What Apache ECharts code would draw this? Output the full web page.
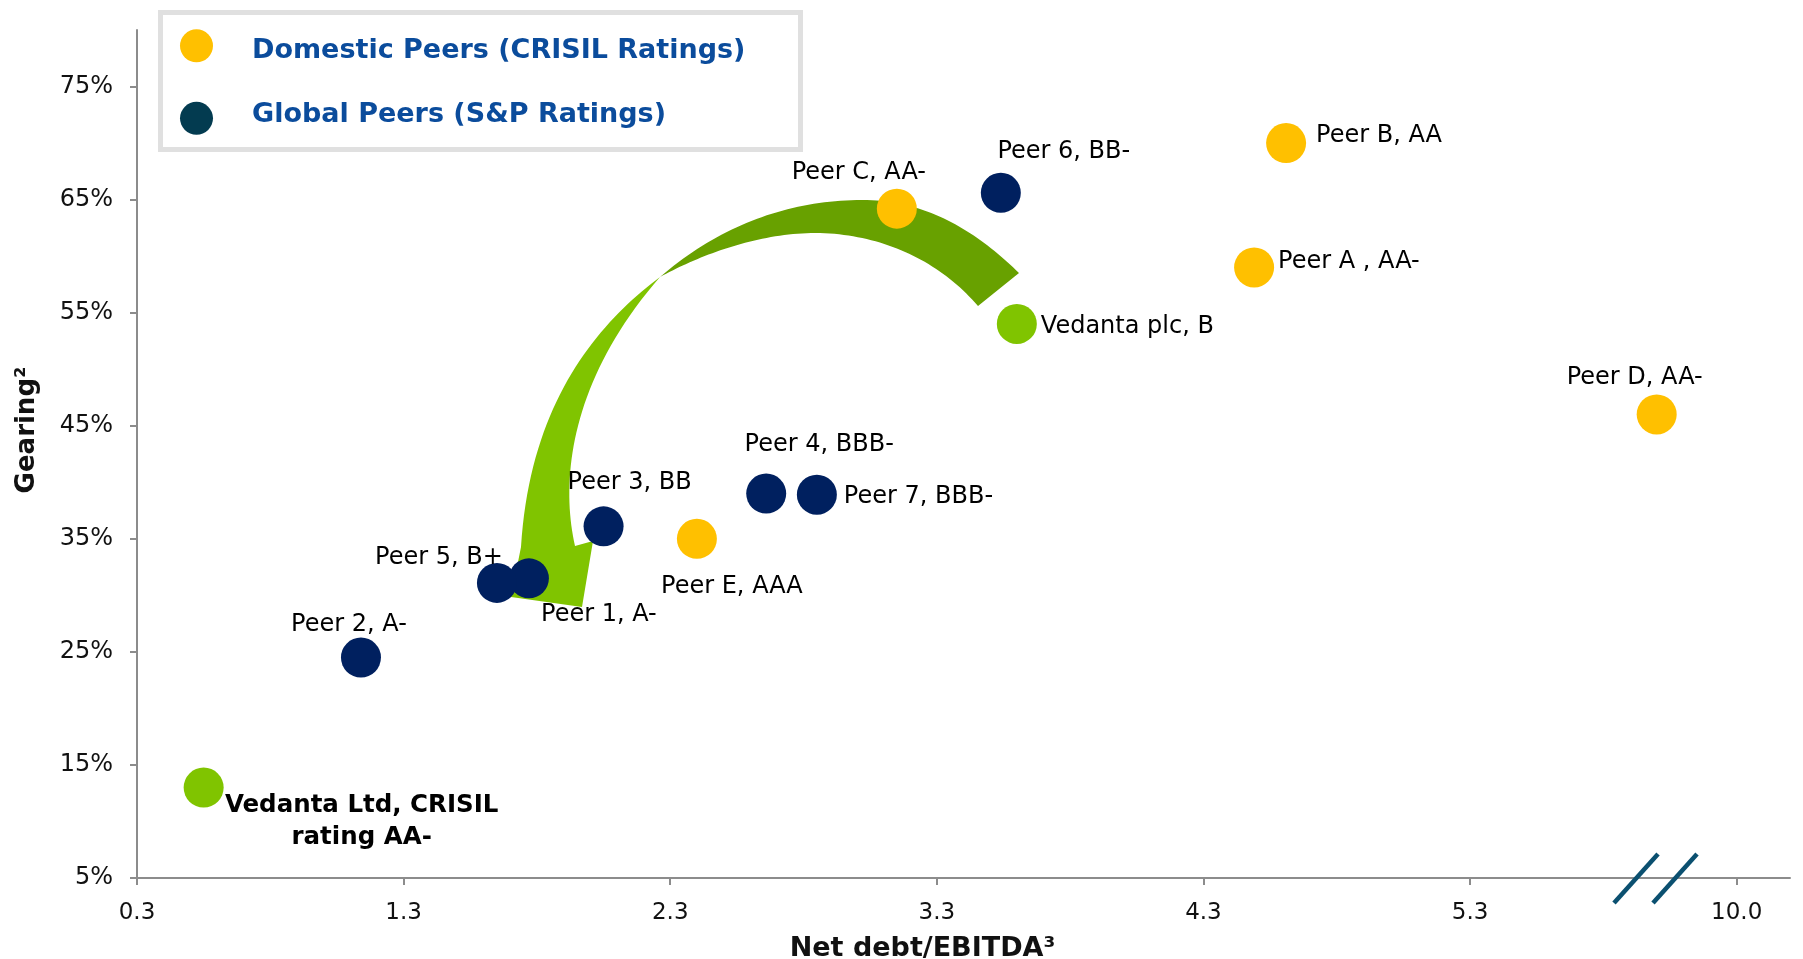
<!DOCTYPE html>
<html>
<head>
<meta charset="utf-8">
<script src="https://cdn.jsdelivr.net/npm/echarts@6/dist/echarts.min.js"></script>
<style>
html,body{margin:0;padding:0;background:#ffffff;overflow:hidden;}
#chart{width:1803px;height:959px;}
</style>
</head>
<body>
<div id="chart"></div>
<script>
// ---- data ----
const X_TICKS = [0.3, 1.3, 2.3, 3.3, 4.3, 5.3, 6.3];
const X_TICK_LABELS = ['0.3', '1.3', '2.3', '3.3', '4.3', '5.3', '10.0'];
const Y_TICKS = [5, 15, 25, 35, 45, 55, 65, 75];

const DOMESTIC_NAMES = ['Peer A , AA-', 'Peer B, AA', 'Peer C, AA-', 'Peer D, AA-', 'Peer E, AAA'];
const DOMESTIC_X = [4.49, 4.61, 3.15, 6.00, 2.40];
const DOMESTIC_Y = [59.0, 70.0, 64.2, 46.0, 35.0];

const GLOBAL_NAMES = ['Peer 1, A-', 'Peer 2, A-', 'Peer 3, BB', 'Peer 4, BBB-', 'Peer 5, B+', 'Peer 6, BB-', 'Peer 7, BBB-'];
const GLOBAL_X = [1.77, 1.14, 2.05, 2.66, 1.65, 3.54, 2.85];
const GLOBAL_Y = [31.5, 24.5, 36.1, 39.0, 31.1, 65.6, 38.9];

const VEDANTA_NAMES = ['Vedanta Ltd, CRISIL\nrating AA-', 'Vedanta plc, B'];
const VEDANTA_X = [0.55, 3.60];
const VEDANTA_Y = [13.0, 54.0];

const SERIES_NAMES = ['Domestic Peers (CRISIL Ratings)', 'Global Peers (S&P Ratings)', 'Vedanta'];

// ---- styles ----
const FONT = 'DejaVu Sans';
const C_YELLOW = '#FFC000';
const C_NAVY = '#00205F';
const C_TEAL = '#033B50';
const C_GREEN = '#80C400';
const C_DARKGREEN = '#68A100';
const C_AXIS = '#8c8c8c';
const C_LEGEND_TEXT = '#0B4C9C';

// label placement (offset of label anchor from symbol box top-left; box is 40x40)
const LABEL_PLACE = {
  'Peer A , AA-': {pos: [44, 14], align: 'left'},
  'Peer B, AA': {pos: [50, 13], align: 'left'},
  'Peer C, AA-': {pos: [-18, -16], align: 'center'},
  'Peer D, AA-': {pos: [-2, -17], align: 'center'},
  'Peer E, AAA': {pos: [55, 68], align: 'center'},
  'Peer 1, A-': {pos: [90, 56], align: 'center'},
  'Peer 2, A-': {pos: [8, -13], align: 'center'},
  'Peer 3, BB': {pos: [46, -24], align: 'center'},
  'Peer 4, BBB-': {pos: [73, -29], align: 'center'},
  'Peer 5, B+': {pos: [-38, -5], align: 'center'},
  'Peer 6, BB-': {pos: [83, -21], align: 'center'},
  'Peer 7, BBB-': {pos: [47, 22], align: 'left'},
  'Vedanta Ltd, CRISIL\nrating AA-': {pos: [178, 54], align: 'center', bold: true},
  'Vedanta plc, B': {pos: [44, 23], align: 'left'}
};

function buildData(names, xs, ys) {
  return names.map(function (n, i) {
    const p = LABEL_PLACE[n];
    return {
      name: n,
      value: [xs[i], ys[i]],
      label: {
        show: true,
        formatter: n,
        position: p.pos,
        align: p.align,
        verticalAlign: 'middle',
        fontFamily: FONT,
        fontSize: p.bold ? 24.5 : 24,
        fontWeight: p.bold ? 'bold' : 'normal',
        lineHeight: p.bold ? 32 : 28,
        color: '#000000'
      }
    };
  });
}

function xLabel(v) {
  for (let i = 0; i < X_TICKS.length; i++) {
    if (Math.abs(v - X_TICKS[i]) < 1e-6) return X_TICK_LABELS[i];
  }
  return '';
}

// decorative arrow outline (pixel space): start point then segments
// segment: ['L', x, y] or ['C', c1x, c1y, c2x, c2y, x, y]
const ARROW_DARK = [[1019, 273],
  ['C', 980, 235, 930, 200, 862, 200],
  ['C', 790, 200, 720, 225, 660, 277],
  ['C', 700, 255, 760, 232, 820, 233],
  ['C', 885, 235, 940, 262, 978, 306]];
const ARROW_LIGHT = [[660, 277],
  ['C', 600, 322, 530, 400, 521, 547],
  ['L', 511, 597], ['L', 582, 607], ['L', 593, 541], ['L', 575, 546],
  ['C', 560, 480, 570, 380, 660, 277]];

function samplePath(def) {
  const pts = [def[0].slice()];
  let cur = def[0].slice();
  for (let k = 1; k < def.length; k++) {
    const s = def[k];
    if (s[0] === 'L') {
      cur = [s[1], s[2]];
      pts.push(cur);
    } else {
      const p0 = cur, c1 = [s[1], s[2]], c2 = [s[3], s[4]], p3 = [s[5], s[6]];
      const N = 40;
      for (let j = 1; j <= N; j++) {
        const t = j / N, u = 1 - t;
        const x = u*u*u*p0[0] + 3*u*u*t*c1[0] + 3*u*t*t*c2[0] + t*t*t*p3[0];
        const y = u*u*u*p0[1] + 3*u*u*t*c1[1] + 3*u*t*t*c2[1] + t*t*t*p3[1];
        pts.push([x, y]);
      }
      cur = p3;
    }
  }
  return pts;
}

function legendLabel(text, y) {
  return {
    type: 'text',
    silent: true,
    z: 12,
    style: {
      text: text,
      x: 252,
      y: y,
      align: 'left',
      verticalAlign: 'middle',
      fontFamily: FONT,
      fontSize: 27,
      fontWeight: 'bold',
      fill: C_LEGEND_TEXT
    }
  };
}

const chart = echarts.init(document.getElementById('chart'), null, {renderer: 'canvas'});

const option = {
  animation: false,
  backgroundColor: '#ffffff',
  grid: {left: 137, right: 13, top: 30, bottom: 81, containLabel: false, outerBoundsMode: 'none'},
  legend: {
    orient: 'vertical',
    left: 180,
    top: 29.3,
    padding: 0,
    itemWidth: 33,
    itemHeight: 33,
    itemGap: 39.5,
    icon: 'circle',
    selectedMode: false,
    z: 10,
    formatter: function () { return ''; },
    data: [
      {name: SERIES_NAMES[0], itemStyle: {color: C_YELLOW}},
      {name: SERIES_NAMES[1], itemStyle: {color: C_TEAL}}
    ],
    textStyle: {fontFamily: FONT, fontSize: 27, fontWeight: 'bold', color: C_LEGEND_TEXT}
  },
  xAxis: {
    type: 'value',
    min: 0.3,
    max: 6.5,
    axisLine: {show: true, onZero: false, lineStyle: {color: C_AXIS, width: 2}},
    axisTick: {show: true, length: 7, lineStyle: {color: C_AXIS, width: 2}, customValues: X_TICKS},
    axisLabel: {
      customValues: X_TICKS,
      formatter: xLabel,
      fontFamily: FONT,
      fontSize: 23,
      color: '#111111',
      margin: 24
    },
    splitLine: {show: false},
    name: 'Net debt/EBITDA³',
    nameLocation: 'middle',
    nameGap: 57,
    nameTextStyle: {
      fontFamily: FONT,
      fontSize: 27,
      fontWeight: 'bold',
      color: '#111111',
      padding: [0, 82, 0, 0]
    }
  },
  yAxis: {
    type: 'value',
    min: 5,
    max: 80,
    axisLine: {show: true, onZero: false, lineStyle: {color: C_AXIS, width: 2}},
    axisTick: {show: true, length: 7, lineStyle: {color: C_AXIS, width: 2}, customValues: Y_TICKS},
    axisLabel: {
      customValues: Y_TICKS,
      formatter: function (v) { return v + '%'; },
      fontFamily: FONT,
      fontSize: 24,
      color: '#111111',
      margin: 24
    },
    splitLine: {show: false},
    name: 'Gearing²',
    nameLocation: 'middle',
    nameGap: 97,
    nameTextStyle: {
      fontFamily: FONT,
      fontSize: 26,
      fontWeight: 'bold',
      color: '#111111',
      padding: [0, 0, 0, 48]
    }
  },
  graphic: [
    {
      type: 'rect',
      silent: true,
      z: 1,
      shape: {x: 160.5, y: 12.5, width: 640, height: 137},
      style: {fill: '#ffffff', stroke: '#e0e0e0', lineWidth: 5}
    },
    legendLabel(SERIES_NAMES[0], 51),
    legendLabel(SERIES_NAMES[1], 115),
    {
      type: 'polygon',
      silent: true,
      z: 0,
      shape: {points: samplePath(ARROW_DARK)},
      style: {fill: C_DARKGREEN}
    },
    {
      type: 'polygon',
      silent: true,
      z: 0,
      shape: {points: samplePath(ARROW_LIGHT)},
      style: {fill: C_GREEN}
    },
    {
      type: 'line',
      silent: true,
      z: 5,
      shape: {x1: 1614, y1: 903, x2: 1658, y2: 854},
      style: {stroke: '#0B5070', lineWidth: 4.5}
    },
    {
      type: 'line',
      silent: true,
      z: 5,
      shape: {x1: 1653, y1: 903, x2: 1697, y2: 854},
      style: {stroke: '#0B5070', lineWidth: 4.5}
    }
  ],
  series: [
    {
      name: SERIES_NAMES[0],
      type: 'scatter',
      symbol: 'circle',
      symbolSize: 40,
      z: 3,
      itemStyle: {color: C_YELLOW, opacity: 1},
      data: buildData(DOMESTIC_NAMES, DOMESTIC_X, DOMESTIC_Y)
    },
    {
      name: SERIES_NAMES[1],
      type: 'scatter',
      symbol: 'circle',
      symbolSize: 40,
      z: 3,
      itemStyle: {color: C_NAVY, opacity: 1},
      data: buildData(GLOBAL_NAMES, GLOBAL_X, GLOBAL_Y)
    },
    {
      name: SERIES_NAMES[2],
      type: 'scatter',
      symbol: 'circle',
      symbolSize: 40,
      z: 3,
      itemStyle: {color: C_GREEN, opacity: 1},
      data: buildData(VEDANTA_NAMES, VEDANTA_X, VEDANTA_Y)
    }
  ]
};

chart.setOption(option);
</script>
</body>
</html>
